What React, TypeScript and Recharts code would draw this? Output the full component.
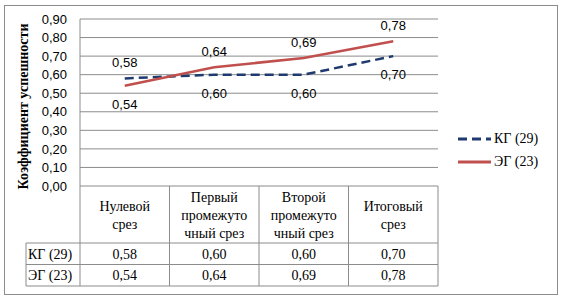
import React from 'react';
import { LineChart, Line, XAxis, YAxis, CartesianGrid, Legend, LabelList, Label } from 'recharts';

const categories = ['Нулевой срез', 'Первый промежуточный срез', 'Второй промежуточный срез', 'Итоговый срез'];
const categoryLines = [['Нулевой', 'срез'], ['Первый', 'промежуто', 'чный срез'], ['Второй', 'промежуто', 'чный срез'], ['Итоговый', 'срез']];
const kgValues = [0.58, 0.6, 0.6, 0.7];
const egValues = [0.54, 0.64, 0.69, 0.78];
const kgLabelPos = ['top', 'bottom', 'bottom', 'bottom'];
const egLabelPos = ['bottom', 'top', 'top', 'top'];
const yTicks = [0, 0.1, 0.2, 0.3, 0.4, 0.5, 0.6, 0.7, 0.8, 0.9];
const seriesNames = ['КГ (29)', 'ЭГ (23)'];
const yTitle = 'Коэффициент успешности';

const data = categories.map((c, i) => ({ cat: c, kg: kgValues[i], eg: egValues[i] }));

const fmt = (v: number) => v.toFixed(2).replace('.', ',');

const GRID = '#8c8c8c';
const SERIF = 'Liberation Serif';
const SANS = 'Liberation Sans';
const KG_COLOR = '#1F3A6E';
const EG_COLOR = '#C0504D';

const W = 561;
const H = 297;
const M = { top: 19, right: 123, bottom: 11, left: 20 };
const PLOT_W = W - M.left - 60 - M.right;
const CELL = PLOT_W / categories.length;
const TABLE_H = 100;
const HEADER_H = 57;
const ROW_H = (TABLE_H - HEADER_H) / 2;
const LEFT_COL = 54;

const TableTick = (props: any) => {
  const { x, y, payload } = props;
  const i = payload.index;
  const x0 = x - CELL / 2;
  const x1 = x + CELL / 2;
  const lines = categoryLines[i];
  const cy = y + HEADER_H / 2;
  const els: any[] = [];
  els.push(<line key="vl" x1={x0} x2={x0} y1={y} y2={y + TABLE_H} stroke={GRID} />);
  if (i === categories.length - 1) {
    els.push(<line key="vr" x1={x1} x2={x1} y1={y} y2={y + TABLE_H} stroke={GRID} />);
  }
  const lx = i === 0 ? x0 - LEFT_COL : x0;
  [HEADER_H, HEADER_H + ROW_H, TABLE_H].forEach((dy, k) => {
    els.push(<line key={'h' + k} x1={lx} x2={x1} y1={y + dy} y2={y + dy} stroke={GRID} />);
  });
  if (i === 0) {
    els.push(<line key="vll" x1={x0 - LEFT_COL} x2={x0 - LEFT_COL} y1={y + HEADER_H} y2={y + TABLE_H} stroke={GRID} />);
    seriesNames.forEach((n, k) => {
      els.push(
        <text key={'n' + k} x={x0 - LEFT_COL + 2} y={y + HEADER_H + ROW_H * k + ROW_H / 2 + 5} fontFamily={SERIF} fontSize={14} fill="#000">
          {n}
        </text>
      );
    });
  }
  lines.forEach((t, k) => {
    els.push(
      <text key={'c' + k} x={x} y={cy - ((lines.length - 1) * 18) / 2 + k * 18 + 5} textAnchor="middle" fontFamily={SERIF} fontSize={14} fill="#000">
        {t}
      </text>
    );
  });
  [kgValues[i], egValues[i]].forEach((v, k) => {
    els.push(
      <text key={'v' + k} x={x} y={y + HEADER_H + ROW_H * k + ROW_H / 2 + 5} textAnchor="middle" fontFamily={SERIF} fontSize={14} fill="#000">
        {fmt(v)}
      </text>
    );
  });
  return <g>{els}</g>;
};

const makeLabel = (pos: string[]) => (props: any) => {
  const { x, y, value, index } = props;
  const up = pos[index] === 'top';
  return (
    <text x={x} y={up ? y - 11 : y + 23} textAnchor="middle" fontFamily={SANS} fontSize={13} fill="#000">
      {fmt(value)}
    </text>
  );
};

const LegendContent = (props: any) => {
  const { payload } = props;
  return (
    <div>
      {payload.map((p: any, k: number) => (
        <div key={k} style={{ display: 'flex', alignItems: 'center', height: 23 }}>
          <svg width={33} height={6} style={{ marginRight: 3 }}>
            <line x1={0} x2={33} y1={3} y2={3} stroke={p.color} strokeWidth={3} strokeDasharray={k === 0 ? '9 5' : undefined} />
          </svg>
          <span style={{ fontFamily: SERIF, fontSize: 14, color: '#000' }}>{p.value}</span>
        </div>
      ))}
    </div>
  );
};

export default function App() {
  return (
    <div style={{ position: 'absolute', left: 0, top: 0, width: W, height: H, background: '#fff' }}>
      <div style={{ position: 'absolute', left: 4, top: 5, width: 552, height: 288, border: '1px solid #8c8c8c' }} />
      <div style={{ position: 'absolute', left: 0, top: 0 }}>
        <LineChart width={W} height={H} data={data} margin={M}>
          <CartesianGrid horizontal vertical={false} stroke={GRID} />
          <XAxis
            dataKey="cat"
            axisLine={false}
            tickLine={false}
            tickSize={0}
            tickMargin={0}
            height={TABLE_H}
            interval={0}
            padding={{ left: CELL / 2, right: CELL / 2 }}
            tick={<TableTick />}
          />
          <YAxis
            domain={[0, 0.9]}
            ticks={yTicks}
            interval={0}
            tickFormatter={fmt}
            width={60}
            tickLine={false}
            tickSize={0}
            tickMargin={13}
            axisLine={{ stroke: GRID }}
            tick={{ fontFamily: SANS, fontSize: 13, fill: '#000' }}
          >
            <Label
              content={(p: any) => {
                const vb = p.viewBox;
                const cx = vb.x + 8;
                const cy = vb.y + vb.height / 2 + 4;
                return (
                  <text x={cx} y={cy} transform={`rotate(-90 ${cx} ${cy})`} textAnchor="middle" fontFamily={SERIF} fontWeight="bold" fontSize={14} fill="#000">
                    {yTitle}
                  </text>
                );
              }}
            />
          </YAxis>
          <Legend
            layout="vertical"
            align="center"
            verticalAlign="middle"
            wrapperStyle={{ position: 'absolute', left: 458, top: 127, width: 100 }}
            content={<LegendContent />}
          />
          <Line name={seriesNames[0]} dataKey="kg" stroke={KG_COLOR} strokeWidth={2.5} strokeDasharray="9 5" dot={false} isAnimationActive={false}>
            <LabelList dataKey="kg" content={makeLabel(kgLabelPos)} />
          </Line>
          <Line name={seriesNames[1]} dataKey="eg" stroke={EG_COLOR} strokeWidth={2.5} dot={false} isAnimationActive={false}>
            <LabelList dataKey="eg" content={makeLabel(egLabelPos)} />
          </Line>
        </LineChart>
      </div>
    </div>
  );
}
